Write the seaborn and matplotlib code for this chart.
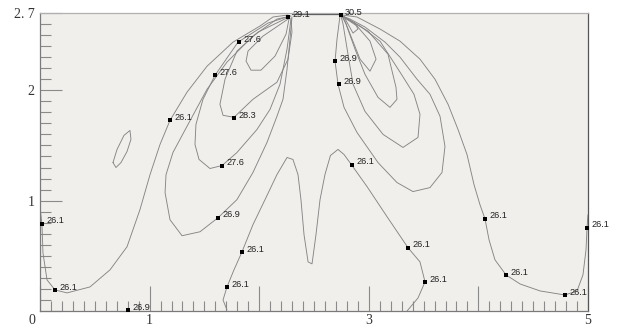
import numpy as np
import pandas as pd
import seaborn as sns
import matplotlib
matplotlib.use("Agg")
import matplotlib.pyplot as plt
from matplotlib.ticker import MultipleLocator, FixedLocator
from matplotlib.transforms import ScaledTranslation

## contour lines (x, y in plot units)
# left group
left_261_x = [2.263, 2.126, 2.007, 1.761, 1.524, 1.341, 1.186, 1.095, 1.004, 0.912, 0.794, 0.639, 0.456, 0.246, 0.137, 0.064, 0.027, 0.018, 0.0]
left_261_y = [2.682, 2.664, 2.582, 2.436, 2.218, 1.982, 1.727, 1.509, 1.236, 0.918, 0.582, 0.373, 0.218, 0.164, 0.191, 0.282, 0.527, 0.782, 0.945]

left_269_x = [2.290, 2.162, 1.943, 1.706, 1.524, 1.341, 1.213, 1.150, 1.141, 1.186, 1.296, 1.460, 1.624, 1.797, 1.943, 2.071, 2.162, 2.217, 2.254, 2.281, 2.299]
left_269_y = [2.673, 2.645, 2.491, 2.255, 2.009, 1.673, 1.436, 1.236, 1.073, 0.827, 0.682, 0.718, 0.845, 1.009, 1.255, 1.527, 1.764, 1.918, 2.191, 2.464, 2.664]

left_276_x = [2.281, 2.080, 1.807, 1.597, 1.487, 1.423, 1.414, 1.451, 1.551, 1.661, 1.797, 1.980, 2.099, 2.190, 2.254, 2.290]
left_276_y = [2.673, 2.609, 2.436, 2.136, 1.918, 1.691, 1.509, 1.373, 1.291, 1.318, 1.436, 1.645, 1.827, 2.055, 2.373, 2.645]

left_283_x = [2.272, 1.989, 1.797, 1.688, 1.642, 1.670, 1.770, 1.943, 2.162, 2.263, 2.299, 2.290]
left_283_y = [2.664, 2.527, 2.355, 2.100, 1.873, 1.773, 1.755, 1.918, 2.073, 2.282, 2.527, 2.655]

left_inner_x = [2.263, 2.035, 1.898, 1.880, 1.925, 2.016, 2.144, 2.245, 2.272]
left_inner_y = [2.645, 2.491, 2.355, 2.264, 2.182, 2.182, 2.309, 2.509, 2.645]

sliver_x = [0.666, 0.703, 0.766, 0.821, 0.830, 0.794, 0.739, 0.693, 0.666]
sliver_y = [1.345, 1.464, 1.591, 1.636, 1.555, 1.445, 1.345, 1.300, 1.345]

# middle "M" line
middle_261_x = [1.706, 1.670, 1.706, 1.770, 1.843, 1.943, 2.053, 2.162, 2.254, 2.308, 2.354, 2.381, 2.409, 2.446, 2.482, 2.518, 2.555, 2.600, 2.650, 2.719, 2.774, 2.847, 2.984, 3.166, 3.358, 3.467, 3.513, 3.449, 3.349]
middle_261_y = [0.009, 0.100, 0.218, 0.373, 0.536, 0.782, 1.009, 1.236, 1.391, 1.373, 1.236, 1.009, 0.691, 0.445, 0.427, 0.691, 1.009, 1.236, 1.409, 1.464, 1.418, 1.318, 1.127, 0.855, 0.573, 0.445, 0.264, 0.118, 0.0]

# right group
right_261_x = [2.755, 2.892, 3.102, 3.285, 3.467, 3.604, 3.723, 3.814, 3.896, 3.960, 4.014, 4.060, 4.097, 4.151, 4.252, 4.380, 4.562, 4.790, 4.900, 4.954, 4.982, 4.991, 5.0]
right_261_y = [2.682, 2.664, 2.555, 2.445, 2.282, 2.100, 1.873, 1.645, 1.418, 1.145, 0.964, 0.836, 0.645, 0.464, 0.327, 0.245, 0.182, 0.145, 0.182, 0.327, 0.555, 0.755, 0.873]

right_269_x = [2.737, 2.710, 2.692, 2.719, 2.774, 2.892, 3.084, 3.257, 3.403, 3.558, 3.668, 3.695, 3.650, 3.558, 3.440, 3.285, 3.148, 2.965, 2.829, 2.755]
right_269_y = [2.673, 2.464, 2.264, 2.055, 1.845, 1.618, 1.345, 1.164, 1.082, 1.118, 1.255, 1.491, 1.764, 1.964, 2.100, 2.300, 2.436, 2.573, 2.645, 2.673]

right_276_x = [2.755, 2.920, 3.102, 3.285, 3.412, 3.467, 3.449, 3.312, 3.130, 2.965, 2.856, 2.810, 2.765, 2.746]
right_276_y = [2.673, 2.582, 2.445, 2.164, 1.964, 1.782, 1.573, 1.482, 1.600, 1.809, 2.055, 2.327, 2.600, 2.673]

right_283_x = [2.755, 2.993, 3.175, 3.248, 3.257, 3.193, 3.084, 2.965, 2.874, 2.792, 2.755]
right_283_y = [2.673, 2.536, 2.327, 2.027, 1.918, 1.845, 1.936, 2.145, 2.373, 2.600, 2.673]

right_291_x = [2.755, 2.892, 3.011, 3.066, 3.011, 2.920, 2.847, 2.783, 2.755]
right_291_y = [2.673, 2.582, 2.445, 2.282, 2.173, 2.282, 2.464, 2.627, 2.673]

right_inner_x = [2.765, 2.874, 2.901, 2.856, 2.810, 2.774]
right_inner_y = [2.673, 2.609, 2.555, 2.518, 2.600, 2.664]

top_edge_x = [2.299, 2.737]
top_edge_y = [2.691, 2.691]

## labelled points
label_x = [0.018, 0.137, 0.803, 1.186, 1.624, 1.661, 1.770, 1.597, 1.816, 2.263, 2.746, 2.692, 2.728, 2.847, 1.843, 1.706, 3.358, 3.513, 4.060, 4.252, 4.790, 4.991]
label_y = [0.791, 0.191, 0.009, 1.727, 0.845, 1.318, 1.745, 2.136, 2.436, 2.664, 2.682, 2.264, 2.055, 1.327, 0.536, 0.218, 0.573, 0.264, 0.836, 0.327, 0.145, 0.755]
label_text = ["26.1", "26.1", "26.9", "26.1", "26.9", "27.6", "28.3", "27.6", "27.6", "29.1", "30.5", "26.9", "26.9", "26.1", "26.1", "26.1", "26.1", "26.1", "26.1", "26.1", "26.1", "26.1"]

## axis ticks
x_ticks = [0, 1, 2, 3, 4, 5]
x_tick_labels = ["0", "1", "", "3", "", "5"]
y_ticks = [0, 1, 2, 2.7]
y_tick_labels = ["", "1", "2", "2. 7"]

lines = {
    "left_261": (left_261_x, left_261_y),
    "left_269": (left_269_x, left_269_y),
    "left_276": (left_276_x, left_276_y),
    "left_283": (left_283_x, left_283_y),
    "left_inner": (left_inner_x, left_inner_y),
    "sliver": (sliver_x, sliver_y),
    "middle_261": (middle_261_x, middle_261_y),
    "right_261": (right_261_x, right_261_y),
    "right_269": (right_269_x, right_269_y),
    "right_276": (right_276_x, right_276_y),
    "right_283": (right_283_x, right_283_y),
    "right_291": (right_291_x, right_291_y),
    "right_inner": (right_inner_x, right_inner_y),
}
df = pd.concat([pd.DataFrame({"x": x, "y": y, "line": name})
                for name, (x, y) in lines.items()], ignore_index=True)

sns.set_style("ticks")
plt.rcParams["font.family"] = ["Liberation Sans", "DejaVu Sans"]

fig = plt.figure(figsize=(6.2, 3.28), dpi=100)
ax = fig.add_axes([40 / 620, 17 / 328, 548 / 620, 298 / 328])
ax.set_facecolor("#f1efec")

sns.lineplot(data=df, x="x", y="y", units="line", estimator=None, sort=False,
             color="#858585", linewidth=0.65, ax=ax)
ax.plot(top_edge_x, top_edge_y, color="#555555", linewidth=0.9)

sns.scatterplot(x=label_x, y=label_y, marker="s", s=9, color="black",
                linewidth=0, ax=ax, clip_on=False, zorder=5)
for lx, ly, t in zip(label_x, label_y, label_text):
    ax.annotate(t, (lx, ly), xytext=(3, 2), textcoords="offset points",
                fontsize=6.6, color="#222222", va="center", ha="left",
                annotation_clip=False)

ax.set_xlim(0, 5)
ax.set_ylim(0, 2.7)
ax.set_xlabel("")
ax.set_ylabel("")

ax.xaxis.set_major_locator(FixedLocator(x_ticks))
ax.set_xticklabels(x_tick_labels)
ax.xaxis.set_minor_locator(MultipleLocator(0.1))
ax.yaxis.set_major_locator(FixedLocator(y_ticks))
ax.set_yticklabels(y_tick_labels)
ax.yaxis.set_minor_locator(MultipleLocator(0.1))

ax.tick_params(axis="x", which="both", bottom=True, top=False)
ax.tick_params(axis="y", which="both", left=True, right=False)
ax.tick_params(axis="x", which="major", direction="in", length=18, width=0.8,
               color="#8a8a8a", pad=2, labelsize=10, labelcolor="#333333")
ax.tick_params(axis="x", which="minor", direction="in", length=7.5, width=0.8, color="#8a8a8a")
ax.tick_params(axis="y", which="major", direction="in", length=16, width=0.8,
               color="#8a8a8a", pad=4, labelsize=10, labelcolor="#333333")
ax.tick_params(axis="y", which="minor", direction="in", length=8, width=0.8, color="#8a8a8a")
for lab in ax.get_xticklabels() + ax.get_yticklabels():
    lab.set_family("Liberation Serif")
# the corner "0" sits left of the spine
zero = ax.get_xticklabels()[0]
zero.set_transform(zero.get_transform() + ScaledTranslation(-8 / 100, 0, fig.dpi_scale_trans))

for side, col in [("left", "#7a7a7a"), ("bottom", "#7a7a7a"), ("right", "#555555"), ("top", "#b0b0b0")]:
    ax.spines[side].set_color(col)
    ax.spines[side].set_linewidth(0.9)
    ax.spines[side].set_visible(True)

fig.savefig("out.png", dpi=100, facecolor="white")
